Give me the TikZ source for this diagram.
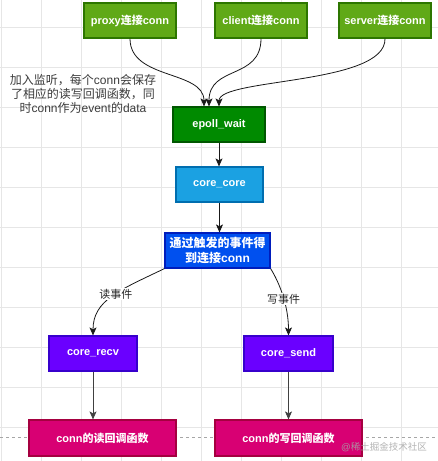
\documentclass[tikz,border=0pt]{standalone}
\usepackage{fontspec}
\setmainfont{Liberation Sans}
\newfontfamily\cjk{Noto Sans CJK SC}
\usetikzlibrary{arrows.meta}
\newcommand\zh[1]{{\cjk #1}}
\definecolor{gridc}{HTML}{E6E6E6}
\definecolor{cgreen}{HTML}{60A917}
\definecolor{cgreenb}{HTML}{2D7600}
\definecolor{cdgreen}{HTML}{008A00}
\definecolor{cdgreenb}{HTML}{005700}
\definecolor{ccyan}{HTML}{1BA1E2}
\definecolor{ccyanb}{HTML}{006EAF}
\definecolor{cblue}{HTML}{0050EF}
\definecolor{cblueb}{HTML}{001DBC}
\definecolor{cviolet}{HTML}{6A00FF}
\definecolor{cvioletb}{HTML}{3700CC}
\definecolor{cmag}{HTML}{D80073}
\definecolor{cmagb}{HTML}{A50040}
\definecolor{annot}{HTML}{3C3C3C}
\begin{document}
\begin{tikzpicture}[x=1pt,y=-1pt,
  box/.style={draw, line width=1.2pt, minimum height=35pt, inner sep=0pt, text=white,
    font=\fontsize{11}{13}\selectfont\bfseries, align=center},
  conn/.style={line width=0.8pt, draw=black!90, -{Stealth[length=8pt,width=7pt,inset=2pt]}},
  lbl/.style={fill=white, inner sep=1pt, font=\fontsize{11}{13}\selectfont, text=black!85}]
\useasboundingbox (0,0) rectangle (438,461);
\fill[white] (0,0) rectangle (438,461);
\foreach \x in {1,41,...,441} \draw[gridc, line width=0.8pt] (\x,0) -- (\x,461);
\foreach \y in {27,67,...,467} \draw[gridc, line width=0.8pt] (0,\y) -- (438,\y);
\draw[gray!70, line width=0.7pt, dash pattern=on 3pt off 3pt] (0,437) -- (438,437);

\node[box, fill=cgreen, draw=cgreenb, minimum width=92pt] (proxy) at (130,20.5) {proxy\zh{连接}conn};
\node[box, fill=cgreen, draw=cgreenb, minimum width=92pt] (client) at (261,20.5) {client\zh{连接}conn};
\node[box, fill=cgreen, draw=cgreenb, minimum width=92pt] (server) at (385,20.5) {server\zh{连接}conn};
\node[box, fill=cdgreen, draw=cdgreenb, minimum width=92pt] (epoll) at (219,124.5) {epoll\_wait};
\node[box, fill=ccyan, draw=ccyanb, minimum width=87pt] (core) at (219.5,184.5) {core\_core};
\node[box, fill=cblue, draw=cblueb, minimum width=105pt, font=\fontsize{12}{15}\selectfont\bfseries] (trig) at (217.5,250.5) {\zh{通过触发的事件得}\\\zh{到连接}conn};
\node[box, fill=cviolet, draw=cvioletb, minimum width=88pt] (recv) at (93,353.5) {core\_recv};
\node[box, fill=cviolet, draw=cvioletb, minimum width=89pt] (send) at (288.5,353.5) {core\_send};
\node[box, fill=cmag, draw=cmagb, minimum width=147pt, minimum height=36pt] (readcb) at (102.5,438) {conn\zh{的读回调函数}};
\node[box, fill=cmag, draw=cmagb, minimum width=147pt, minimum height=36pt] (writecb) at (288.5,438) {conn\zh{的写回调函数}};

\node[align=center, text=annot, font=\fontsize{12}{14}\selectfont, inner sep=0pt] (note) at (83,94)
  {\zh{加入监听，每个}conn\zh{会保存}\\\zh{了相应的读写回调函数，同}\\\zh{时}conn\zh{作为}event\zh{的}data};

\draw[conn] (proxy.south) .. controls (130,80) and (204,70) .. ([xshift=-15pt]epoll.north);
\draw[conn] (client.south) .. controls (261,80) and (209,65) .. ([xshift=-10pt]epoll.north);
\draw[conn] (server.south) .. controls (386,85) and (219,78) .. (epoll.north);
\draw[conn] (epoll.south) -- (epoll.south |- core.north);
\draw[conn] (core.south) -- (core.south |- trig.north);
\draw[conn] (trig.south west) .. controls (120,290) and (93,300) .. (recv.north)
  node[lbl, pos=0.45] (lr) {\zh{读事件}};
\draw[conn] (trig.south east) .. controls (279,282) and (288.5,305) .. (send.north)
  node[lbl, pos=0.55] (lw) {\zh{写事件}};
\draw[conn, draw=black!75] (recv.south) -- (recv.south |- readcb.north);
\draw[conn, draw=black!75] (send.south) -- (writecb.north);

\node[text=gray!70, opacity=0.85, font=\fontsize{9.5}{10}\selectfont, inner sep=0pt] (wm) at (384,447) {@\zh{稀土掘金技术社区}};
\end{tikzpicture}
\end{document}
